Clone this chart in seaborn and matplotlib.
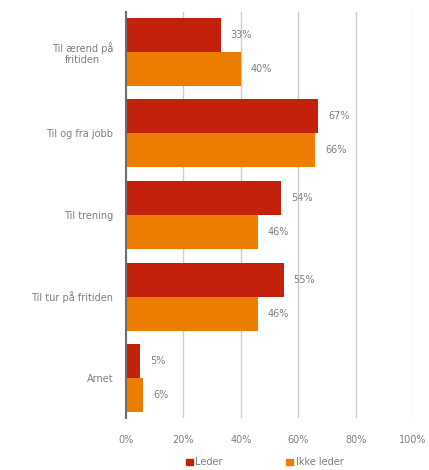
import matplotlib
matplotlib.use("Agg")
import matplotlib.pyplot as plt
from matplotlib.ticker import PercentFormatter
import seaborn as sns
import pandas as pd

categories = ["Til ærend på\nfritiden", "Til og fra jobb", "Til trening",
              "Til tur på fritiden", "Arnet"]
groups = ["Leder", "Ikke leder"]
leder = [33, 67, 54, 55, 5]
ikke_leder = [40, 66, 46, 46, 6]
ticks = [0, 20, 40, 60, 80, 100]

colors = {"Leder": "#C3210B", "Ikke leder": "#ED7D00"}
text_color = "#7F7F7F"

df = pd.DataFrame({
    "kategori": categories * 2,
    "gruppe": [groups[0]] * len(categories) + [groups[1]] * len(categories),
    "andel": leder + ikke_leder,
})

sns.set_theme(style="white")
plt.rcParams["font.family"] = ["DejaVu Sans"]

fig = plt.figure(figsize=(4.29, 4.70), dpi=100)
ax = fig.add_axes([0.2937, 0.1106, 0.669, 0.864])

sns.barplot(data=df, x="andel", y="kategori", hue="gruppe", order=categories,
            hue_order=groups, palette=colors, orient="h", width=0.834,
            saturation=1, linewidth=0, ax=ax, legend=False)

for container in ax.containers:
    ax.bar_label(container, labels=[f"{int(v)}%" for v in container.datavalues],
                 padding=7, fontsize=7, color=text_color)

ax.set_xlim(0, 100)
ax.set_ylim(4.49, -0.49)
ax.set_xticks(ticks)
ax.xaxis.set_major_formatter(PercentFormatter(decimals=0))
ax.grid(axis="x", color="#CCCCCC", linewidth=1)
ax.set_axisbelow(True)
ax.set_xlabel("")
ax.set_ylabel("")
for side in ["top", "right", "bottom"]:
    ax.spines[side].set_visible(False)
ax.spines["left"].set_color("#707060")
ax.spines["left"].set_linewidth(1.5)
ax.tick_params(axis="x", length=0, labelsize=7, colors=text_color, pad=12)
ax.tick_params(axis="y", length=0, labelsize=7, colors=text_color, pad=9)
for lbl in ax.get_yticklabels():
    lbl.set_horizontalalignment("right")
    lbl.set_multialignment("center")

handles = [plt.Rectangle((0, 0), 1, 1, color=colors[g]) for g in groups]
fig.legend(handles, groups, loc="center", bbox_to_anchor=(0.617, 0.016),
           ncol=2, frameon=False, fontsize=7, handlelength=0.7, handleheight=0.7,
           handletextpad=0.3, columnspacing=6.5, labelcolor=text_color,
           borderpad=0)

fig.savefig("out.png", dpi=100)
